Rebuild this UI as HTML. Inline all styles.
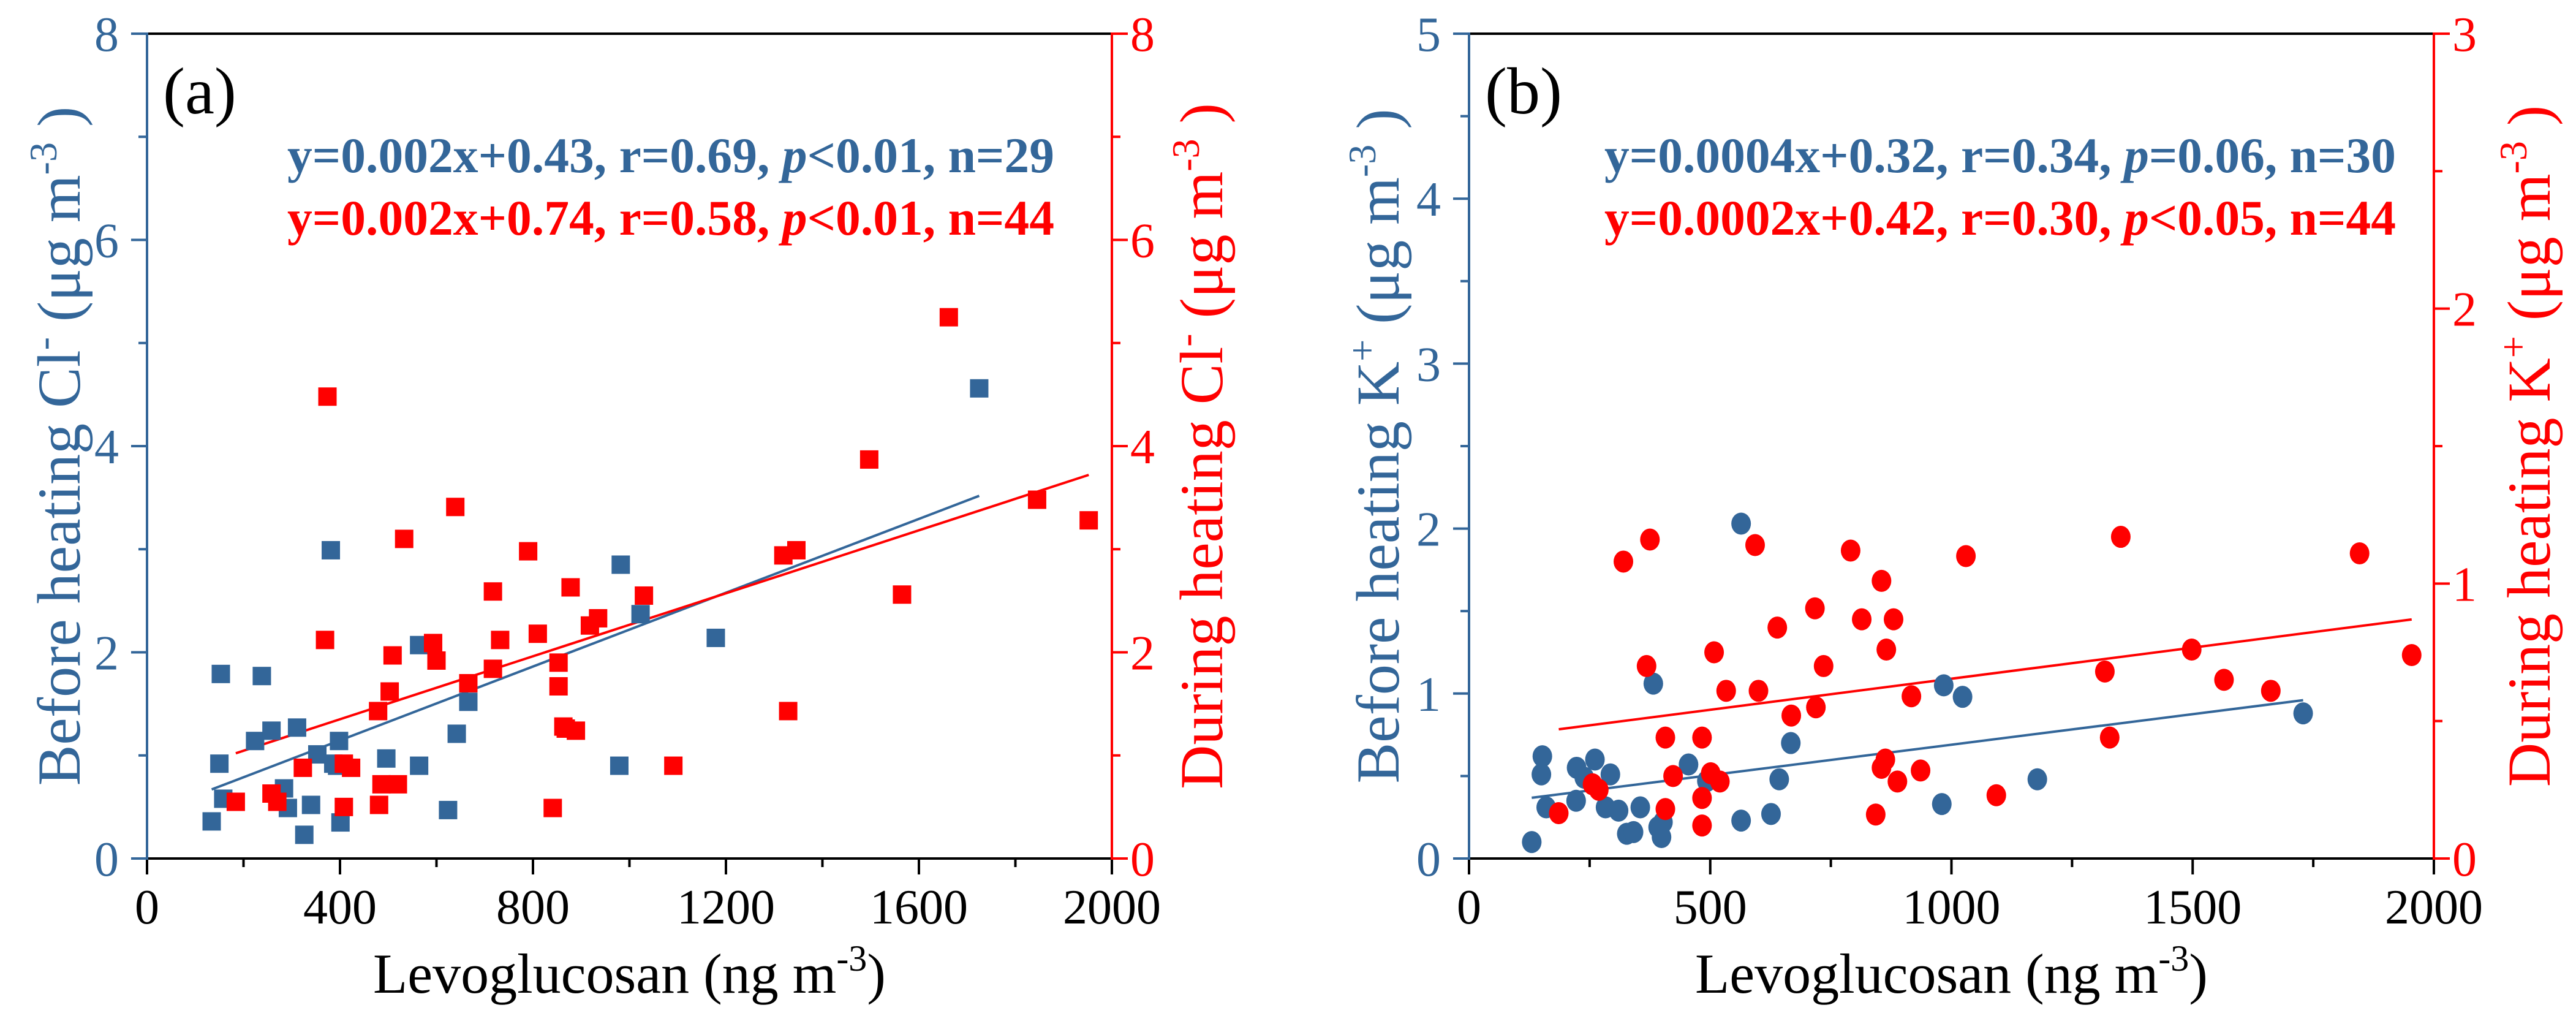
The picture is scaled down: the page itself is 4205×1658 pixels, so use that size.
<!DOCTYPE html>
<html><head><meta charset="utf-8">
<style>
html,body{margin:0;padding:0;background:#fff;}
svg{display:block;}
svg text{font-family:"Liberation Serif","Times New Roman","DejaVu Serif",serif;}
</style></head>
<body>
<svg id="fig" width="4205" height="1658" viewBox="0 0 4205 1658" xmlns="http://www.w3.org/2000/svg" font-family="Liberation Serif, Times New Roman, DejaVu Serif, serif"></svg>
<script>
// ---------- Panel (a) data: Cl- vs levoglucosan ----------
const aBeforeX = [134,153,150,158,224,238,258,284,292,311,326,340,353,381,394,398,401,386,496,564,564,624,642,666,982,979,1023,1179,1725];
const aBeforeY = [0.36,1.79,0.92,0.58,1.14,1.77,1.24,0.68,0.49,1.27,0.23,0.52,1.01,2.99,0.90,1.14,0.35,0.92,0.97,0.90,2.07,0.47,1.21,1.52,2.85,0.90,2.37,2.14,4.56];
const aDuringX = [184,258,270,323,369,374,408,408,423,479,481,486,503,509,520,533,593,600,639,666,717,717,732,790,810,841,853,853,863,868,878,889,918,935,1030,1091,1319,1329,1346,1497,1565,1662,1845,1952];
const aDuringY = [0.55,0.63,0.55,0.88,2.12,4.48,0.92,0.50,0.88,1.43,0.52,0.72,1.62,1.97,0.72,3.10,2.09,1.92,3.41,1.70,2.59,1.84,2.12,2.98,2.18,0.49,1.90,1.67,1.28,1.26,2.63,1.24,2.26,2.33,2.55,0.90,2.94,1.43,2.99,3.87,2.56,5.25,3.48,3.28];
const aFitBefore = [0.00179, 0.43];
const aFitDuring = [0.001527, 0.74];
const aXTicks = [0,400,800,1200,1600,2000];
const aYTicks = [0,2,4,6,8];
const aYRTicks = [0,2,4,6,8];
// ---------- Panel (b) data: K+ vs levoglucosan ----------
const bBeforeX = [130,152,150,160,222,223,239,261,283,293,310,327,341,355,382,392,399,402,455,493,564,564,626,643,667,980,984,1023,1178,1729];
const bBeforeY = [0.10,0.62,0.51,0.31,0.35,0.55,0.49,0.60,0.31,0.51,0.29,0.15,0.16,0.31,1.06,0.19,0.13,0.22,0.57,0.47,2.03,0.23,0.27,0.48,0.70,0.33,1.05,0.98,0.48,0.88];
const bDuringX = [186,256,269,320,368,375,407,407,423,483,483,483,501,508,520,533,593,600,639,668,717,719,735,791,814,843,855,855,863,865,880,888,917,936,1030,1093,1318,1328,1351,1498,1565,1662,1846,1954];
const bDuringY = [0.165,0.27,0.25,1.08,0.70,1.16,0.44,0.18,0.30,0.44,0.22,0.12,0.31,0.75,0.28,0.61,1.14,0.61,0.84,0.52,0.91,0.55,0.70,1.12,0.87,0.16,0.33,1.01,0.36,0.76,0.87,0.28,0.59,0.32,1.10,0.23,0.68,0.44,1.17,0.76,0.65,0.61,1.11,0.74];
const bFitBefore = [0.00037, 0.32];
const bFitDuring = [0.000226, 0.428];
const bXTicks = [0,500,1000,1500,2000];
const bYTicks = [0,1,2,3,4,5];
const bYRTicks = [0,1,2,3];

const NS = "http://www.w3.org/2000/svg";
const FONT = "Liberation Serif, Times New Roman, DejaVu Serif, serif";
const svg = document.getElementById('fig');
const BLUE = "#336699", RED = "#ff0000";
function el(tag, attrs, parent){ const e=document.createElementNS(NS,tag); for(const k in attrs) e.setAttribute(k,attrs[k]); if(tag==='text') e.setAttribute('font-family',FONT); (parent||svg).appendChild(e); return e; }

function panel(cfg){
  const g = el('g',{});
  
  
  const L=cfg.left,R=cfg.right,T=55,B=1401;
  const sx = v => L + v / cfg.xmax * (R-L);
  const syL = v => B - v / cfg.ylmax * (B-T);
  const syR = v => B - v / cfg.yrmax * (B-T);
  const tk = (x1,y1,x2,y2,c,nm)=>{ const l=el('line',{x1,y1,x2,y2,stroke:c,'stroke-width':4},g);   };
  for(let v=0; v<=cfg.xmax+1e-9; v+=cfg.xminor){ const major=cfg.xticks.some(t=>Math.abs(t-v)<1e-9); tk(sx(v),B,sx(v),B+(major?26:14),'#000','x-tick'); }
  for(let v=0; v<=cfg.ylmax+1e-9; v+=cfg.ylminor){ const major=cfg.yticks.some(t=>Math.abs(t-v)<1e-9); tk(L,syL(v),L-(major?26:14),syL(v),BLUE,'left-y-tick'); }
  for(let v=0; v<=cfg.yrmax+1e-9; v+=cfg.yrminor){ const major=cfg.yrticks.some(t=>Math.abs(t-v)<1e-9); tk(R,syR(v),R+(major?26:14),syR(v),RED,'right-y-tick'); }
  tk(L,T,R,T,'#000','top-axis');
  tk(L-2,B,R,B,'#000','x-axis');
  tk(L,T-2,L,B+2,BLUE,'left-y-axis');
  tk(R,T-2,R,B+2,RED,'right-y-axis');
  cfg.xticks.forEach(v=>{ const t=el('text',{x:sx(v),y:1507,'font-size':80,'text-anchor':'middle',fill:'#000'},g); t.textContent=v;   });
  cfg.yticks.forEach(v=>{ const t=el('text',{x:L-46,y:syL(v)+28,'font-size':80,'text-anchor':'end',fill:BLUE},g); t.textContent=v;   });
  cfg.yrticks.forEach(v=>{ const t=el('text',{x:R+30,y:syR(v)+28,'font-size':80,'text-anchor':'start',fill:RED},g); t.textContent=v;   });
  const bmin=Math.min(...cfg.bx), bmax=Math.max(...cfg.bx), dmin=Math.min(...cfg.dx), dmax=Math.max(...cfg.dx);
  const fb=el('line',{x1:sx(bmin),y1:syL(cfg.fb[0]*bmin+cfg.fb[1]),x2:sx(bmax),y2:syL(cfg.fb[0]*bmax+cfg.fb[1]),stroke:BLUE,'stroke-width':4},g);
   
  const fd=el('line',{x1:sx(dmin),y1:syR(cfg.fd[0]*dmin+cfg.fd[1]),x2:sx(dmax),y2:syR(cfg.fd[0]*dmax+cfg.fd[1]),stroke:RED,'stroke-width':4},g);
   
  cfg.bx.forEach((x,i)=>{
    let m;
    if(cfg.shape==='square') m=el('rect',{x:sx(x)-15,y:syL(cfg.by[i])-15,width:30,height:30,fill:BLUE},g);
    else m=el('ellipse',{cx:sx(x),cy:syL(cfg.by[i]),rx:16,ry:18,fill:BLUE},g);
     
  });
  cfg.dx.forEach((x,i)=>{
    let m;
    if(cfg.shape==='square') m=el('rect',{x:sx(x)-15,y:syR(cfg.dy[i])-15,width:30,height:30,fill:RED},g);
    else m=el('ellipse',{cx:sx(x),cy:syR(cfg.dy[i]),rx:16,ry:18,fill:RED},g);
     
  });
  const pl=el('text',{x:L+26,y:185,'font-size':108,fill:'#000'},g); pl.textContent=cfg.label;
   
  const eq=(y,c,html,len,nm)=>{ const t=el('text',{x:cfg.eqRight,y,'font-size':82,'font-weight':'bold','text-anchor':'end',fill:c,textLength:len,lengthAdjust:'spacingAndGlyphs'},g); t.innerHTML=html;   };
  eq(281,BLUE,cfg.eq1,cfg.eqLen,'before-heating-equation');
  eq(383,RED,cfg.eq2,cfg.eqLen,'during-heating-equation');
  const xt=el('text',{x:(L+R)/2,y:1620,'font-size':92,'text-anchor':'middle',fill:'#000'},g);
  xt.innerHTML='Levoglucosan (ng m<tspan dy="-36" font-size="60">-3</tspan><tspan dy="36">)</tspan>';
   
  const yl=el('text',{x:0,y:0,'font-size':100,'text-anchor':'middle',fill:BLUE,transform:`translate(${cfg.ltx},728) rotate(-90)`},g);
  yl.innerHTML=cfg.ltitle;
   
  const yr=el('text',{x:0,y:0,'font-size':100,'text-anchor':'middle',fill:RED,transform:`translate(${cfg.rtx},728) rotate(-90)`},g);
  yr.innerHTML=cfg.rtitle;
   
}
const sup=(s)=>`<tspan dy="-38" font-size="64">${s}</tspan><tspan dy="38"> </tspan>`;
const unit='(μg m<tspan dy="-38" font-size="64">-3</tspan><tspan dy="38"> )</tspan>';
panel({name:'panel-a-chloride',left:240,right:1815,xmax:2000,xminor:200,xticks:aXTicks,
  ylmax:8,ylminor:1,yticks:aYTicks,yrmax:8,yrminor:1,yrticks:aYRTicks,shape:'square',
  bx:aBeforeX,by:aBeforeY,dx:aDuringX,dy:aDuringY,fb:aFitBefore,fd:aFitDuring,label:'(a)',
  eqRight:1721,eqLen:1252,
  eq1:'y=0.002x+0.43, r=0.69, <tspan font-style="italic">p</tspan>&lt;0.01, n=29',
  eq2:'y=0.002x+0.74, r=0.58, <tspan font-style="italic">p</tspan>&lt;0.01, n=44',
  ltx:130,rtx:1995,
  ltitle:'Before heating Cl'+sup('-')+unit,
  rtitle:'During heating Cl'+sup('-')+unit});
panel({name:'panel-b-potassium',left:2398,right:3973,xmax:2000,xminor:250,xticks:bXTicks,
  ylmax:5,ylminor:0.5,yticks:bYTicks,yrmax:3,yrminor:0.5,yrticks:bYRTicks,shape:'circle',
  bx:bBeforeX,by:bBeforeY,dx:bDuringX,dy:bDuringY,fb:bFitBefore,fd:bFitDuring,label:'(b)',
  eqRight:3911,eqLen:1292,
  eq1:'y=0.0004x+0.32, r=0.34, <tspan font-style="italic">p</tspan>=0.06, n=30',
  eq2:'y=0.0002x+0.42, r=0.30, <tspan font-style="italic">p</tspan>&lt;0.05, n=44',
  ltx:2283,rtx:4162,
  ltitle:'Before heating K'+sup('+')+unit,
  rtitle:'During heating K'+sup('+')+unit});
</script>
</body></html>
